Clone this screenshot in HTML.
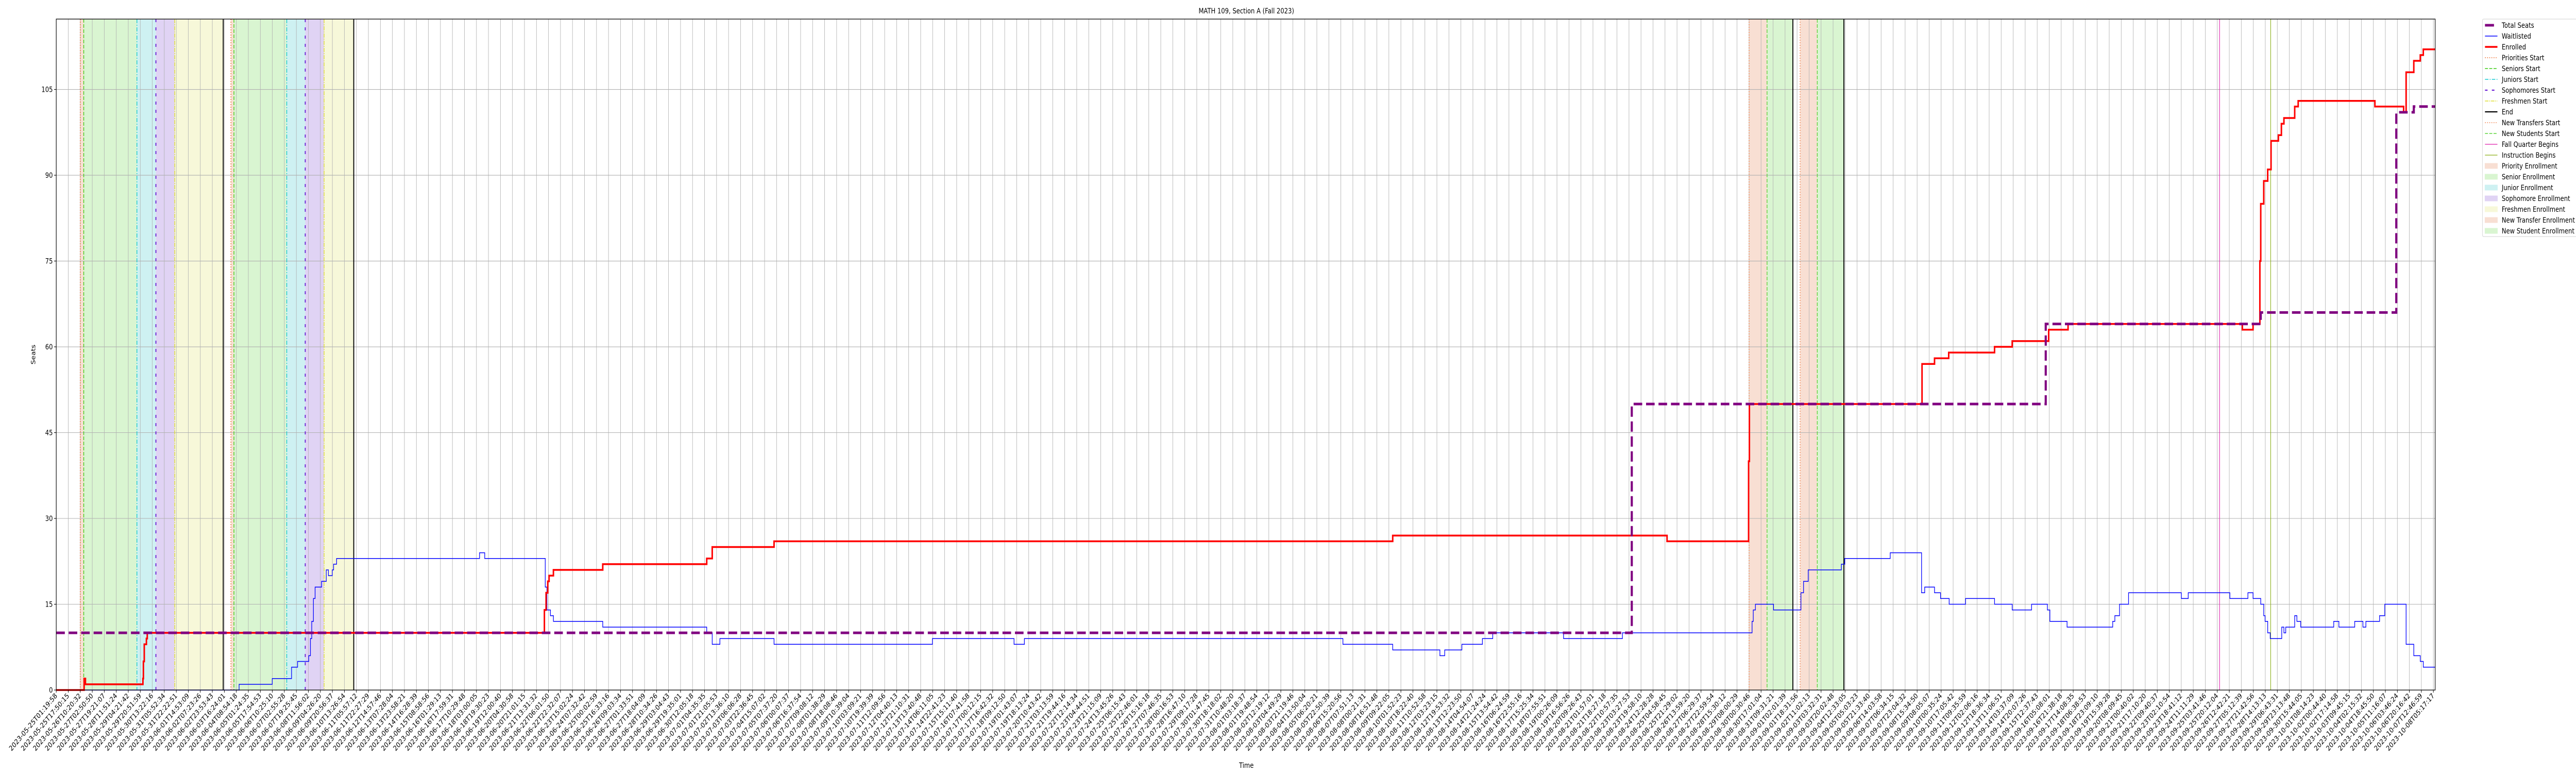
<!DOCTYPE html>
<html><head><meta charset="utf-8">
<style>
html,body{margin:0;padding:0;background:#fff;width:100%;height:100%;overflow:hidden;}
svg{display:block;position:absolute;left:0;top:0;width:100vw;height:100vh;font-family:"DejaVu Sans","Liberation Sans",sans-serif;}
</style></head>
<body>
<svg id="chart" xmlns="http://www.w3.org/2000/svg" viewBox="0 0 6000 1500" preserveAspectRatio="none">
<rect x="0" y="0" width="6000" height="1500" fill="#fff"/>
<text x="2903" y="26" text-anchor="middle" font-size="13.9">MATH 109, Section A (Fall 2023)</text>
<text x="2903" y="1490" text-anchor="middle" font-size="13.9">Time</text>
<text x="0" y="0" transform="translate(82,688) rotate(-90)" text-anchor="middle" font-size="13.9">Seats</text>
<g id="spans"></g>
<g id="grid"></g>
<g id="vlines"></g>
<g id="series"></g>
<g id="axes"></g>
<g id="legend"></g>
</svg>
<script>
// x values are in tick-index units (0 = first tick label, 198 = last)
const seatsX = [0, 131.23, 165.71, 183.62, 194.91, 196.37, 198.15];
const seatsY = [10, 50, 64, 66, 101, 102, 102];

const enrolledX = [0,2.32,2.43,7.22,7.26,7.33,7.51,7.58,40.66,40.80,40.94,41.05,41.41,45.52,54.18,54.64,59.79,111.32,134.17,140.96,141.03,155.41,156.45,157.63,161.45,162.92,165.96,167.57,182.09,182.98,183.55,183.62,183.87,184.20,184.48,185.09,185.34,185.55,186.45,186.74,193.13,195.52,195.73,196.37,196.91,197.16,198.15];
const enrolledY = [0,2,1,2,5,8,9,10,14,17,19,20,21,22,23,25,26,27,26,40,50,57,58,59,60,61,63,64,63,64,75,85,89,91,96,97,99,100,102,103,102,101,108,110,111,112,112];

const waitX = [0,15.23,17.99,19.60,20.10,21.03,21.17,21.28,21.42,21.56,22.10,22.49,22.67,22.99,23.10,23.35,35.26,35.69,40.73,40.87,41.16,41.41,45.52,54.18,54.64,55.28,59.79,72.98,79.78,80.64,107.17,111.32,115.25,115.65,117.08,118.79,119.65,125.55,130.45,141.25,141.35,141.53,143.04,145.32,145.54,145.93,148.69,148.97,152.76,155.37,155.63,156.45,156.95,157.67,159.03,161.45,162.92,164.53,165.85,166.06,167.49,171.29,171.47,171.86,172.61,177.01,177.58,181.05,182.55,182.98,183.62,183.87,183.98,184.20,184.41,185.37,185.55,185.70,186.45,186.63,186.95,189.70,190.13,191.45,192.13,192.38,193.52,193.95,195.73,196.37,196.91,197.16,198.15];
const waitY = [0,1,2,4,5,6,9,12,16,18,19,21,20,21,22,23,24,23,18,14,13,12,11,10,8,9,8,9,8,9,8,7,6,7,8,9,10,9,10,12,14,15,14,17,19,21,22,23,24,17,18,17,16,15,16,15,14,15,14,12,11,12,13,15,17,16,17,16,17,16,15,13,12,10,9,11,10,11,13,12,11,12,11,12,11,12,13,15,8,6,5,4,4];

const spanStarts = [2.00,2.29,6.72,8.30,9.87, 14.55,14.80,19.20,20.74,22.31, 141.00,142.50, 145.25,146.68];
const spanEnds   = [2.29,6.72,8.30,9.87,13.91, 14.80,19.20,20.74,22.31,24.78, 142.50,144.65, 146.68,148.90];
const spanKinds  = ["priority","senior","junior","sophomore","freshmen","priority","senior","junior","sophomore","freshmen","transfer","newstudent","transfer","newstudent"];

const lineXs   = [2.00,2.29,6.72,8.30,9.87,13.91, 14.55,14.80,19.20,20.74,22.31,24.78, 141.00,142.50,144.65, 145.25,146.68,148.90, 180.19,184.45];
const lineKinds= ["priorities","seniors","juniors","sophomores","freshmen","end","priorities","seniors","juniors","sophomores","freshmen","end","transfers","newstudents","end","transfers","newstudents","end","fall","instruction"];

const yTicks = [0,15,30,45,60,75,90,105];
const tickCount = 199;
const tickStart = "2023-05-25T01:19:58";
const tickEnd = "2023-10-08T05:17:17";

const NS="http://www.w3.org/2000/svg";
const L=131, R=5672, T=37, B=1339;
const X0=0, X1=198.15, Y0=0, Y1=117.3;
function sx(v){return L+(v-X0)/(X1-X0)*(R-L);}
function sy(v){return B-(v-Y0)/(Y1-Y0)*(B-T);}
function mk(tag,attrs,parent){const e=document.createElementNS(NS,tag);for(const k in attrs)e.setAttribute(k,attrs[k]);parent.appendChild(e);return e;}

const spanColor={priority:"#f8dfd3",senior:"#d9f5d1",junior:"#cef1f2",sophomore:"#e0d3f4",freshmen:"#f7f8d9",transfer:"#f8dfd3",newstudent:"#d9f5d1"};
const lineStyle={
 priorities:{c:"#ee6a2a",w:1.6,d:"2,3"},
 seniors:{c:"#3ccc14",w:1.6,d:"7,3"},
 juniors:{c:"#14c8d0",w:1.6,d:"8,3,2,3"},
 sophomores:{c:"#6a1ed6",w:2.2,d:"6,10"},
 freshmen:{c:"#dede30",w:1.6,d:"8,2,2,2"},
 end:{c:"#000",w:2.2,d:""},
 transfers:{c:"#ee6a2a",w:1.3,d:"2,3"},
 newstudents:{c:"#3ccc14",w:1.3,d:"7,3"},
 fall:{c:"#dd1aaa",w:1.3,d:""},
 instruction:{c:"#8aae14",w:1.3,d:""}
};

const gSpans=document.getElementById('spans');
for(let i=0;i<spanStarts.length;i++){
 const r=mk('rect',{x:sx(spanStarts[i]),y:T,width:sx(spanEnds[i])-sx(spanStarts[i]),height:B-T,fill:spanColor[spanKinds[i]]},gSpans);
 
 
}

const gGrid=document.getElementById('grid');
const gAxes=document.getElementById('axes');
const t0=Date.parse(tickStart+"Z"), t1=Date.parse(tickEnd+"Z");
for(let i=0;i<tickCount;i++){
 const x=sx(i);
 const gl=mk('line',{x1:x,y1:T,x2:x,y2:B,stroke:"#b0b0b0","stroke-width":1},gGrid);
 
 
 const tk=mk('line',{x1:x,y1:B,x2:x,y2:B+5,stroke:"#000","stroke-width":1.1},gAxes);
 
 
 const t=new Date(t0+(t1-t0)*i/(tickCount-1)).toISOString().slice(0,19);
 const tx=mk('text',{transform:`translate(${x+3},${B+12}) rotate(-45)`,"text-anchor":"end","font-size":"13.9"},gAxes);
 tx.textContent=t;
 
 
}
for(const v of yTicks){
 const y=sy(v);
 const gl=mk('line',{x1:L,y1:y,x2:R,y2:y,stroke:"#b0b0b0","stroke-width":1.1},gGrid);
 
 
 const tk=mk('line',{x1:L-5,y1:y,x2:L,y2:y,stroke:"#000","stroke-width":1.1},gAxes);
 
 
 const tx=mk('text',{x:L-8,y:y+5,"text-anchor":"end","font-size":"13.9"},gAxes);
 tx.textContent=String(v);
 
 
}
const frame=mk('rect',{x:L,y:T,width:R-L,height:B-T,fill:"none",stroke:"#000","stroke-width":1.3},gAxes);



const gV=document.getElementById('vlines');
for(let i=0;i<lineXs.length;i++){
 const s=lineStyle[lineKinds[i]];
 const x=sx(lineXs[i]);
 const a={x1:x,y1:T,x2:x,y2:B,stroke:s.c,"stroke-width":s.w};
 if(s.d)a["stroke-dasharray"]=s.d;
 const l=mk('line',a,gV);
 
 
}

function stepPath(xs,ys){
 let d=`M${sx(xs[0]).toFixed(1)},${sy(ys[0]).toFixed(1)}`;
 for(let i=1;i<xs.length;i++){
  d+=`H${sx(xs[i]).toFixed(1)}V${sy(ys[i]).toFixed(1)}`;
 }
 return d;
}
const gS=document.getElementById('series');
const pw=mk('path',{d:stepPath(waitX,waitY),fill:"none",stroke:"#0000ff","stroke-width":1.5},gS);


const pe=mk('path',{d:stepPath(enrolledX,enrolledY),fill:"none",stroke:"#ff0000","stroke-width":3.5},gS);


const ps=mk('path',{d:stepPath(seatsX,seatsY),fill:"none",stroke:"#800080","stroke-width":5,"stroke-dasharray":"20,9"},gS);



const legendLabels=["Total Seats","Waitlisted","Enrolled","Priorities Start","Seniors Start","Juniors Start","Sophomores Start","Freshmen Start","End","New Transfers Start","New Students Start","Fall Quarter Begins","Instruction Begins","Priority Enrollment","Senior Enrollment","Junior Enrollment","Sophomore Enrollment","Freshmen Enrollment","New Transfer Enrollment","New Student Enrollment"];
const legendKinds=["seats","wait","enrolled","priorities","seniors","juniors","sophomores","freshmen","end","transfers","newstudents","fall","instruction","priority","senior","junior","sophomore","freshmen","transfer","newstudent"];
const gL=document.getElementById('legend');
const box=mk('rect',{x:5782,y:37,width:230,height:422,fill:"#fff",stroke:"#d0d0d0","stroke-width":1,rx:3},gL);


for(let i=0;i<legendLabels.length;i++){
 const y=49+i*21;
 const k=legendKinds[i];
 const g=mk('g',{},gL);
 
 
 if(i>=13){
  mk('rect',{x:5788,y:y-5,width:29,height:10,fill:spanColor[k],stroke:spanColor[k]},g);
 } else if(k==="seats"){
  mk('line',{x1:5788,y1:y,x2:5809,y2:y,stroke:"#800080","stroke-width":5},g);
 } else if(k==="wait"){
  mk('line',{x1:5788,y1:y,x2:5817,y2:y,stroke:"#0000ff","stroke-width":1.5},g);
 } else if(k==="enrolled"){
  mk('line',{x1:5788,y1:y,x2:5817,y2:y,stroke:"#ff0000","stroke-width":3.5},g);
 } else {
  const s=lineStyle[k];
  const a={x1:5788,y1:y,x2:5817,y2:y,stroke:s.c,"stroke-width":s.w};
  if(s.d)a["stroke-dasharray"]=s.d;
  mk('line',a,g);
 }
 const t=mk('text',{x:5827,y:y+5,"font-size":"13.9"},g);
 t.textContent=legendLabels[i];
}
</script>
</body></html>
